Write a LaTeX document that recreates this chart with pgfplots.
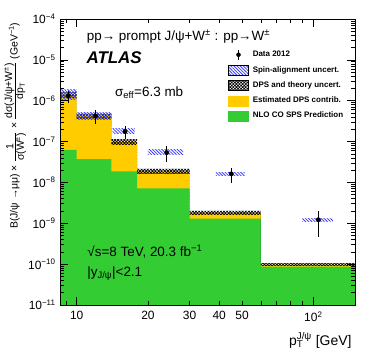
\documentclass[border=0pt]{standalone}
\usepackage{fontspec}
\setmainfont{Liberation Sans}
\usepackage{pgfplots}
\pgfplotsset{compat=1.18}
\usetikzlibrary{patterns.meta}

\definecolor{spsgreen}{RGB}{51,204,51}
\definecolor{dpsyellow}{RGB}{255,204,0}
\definecolor{spinblue}{RGB}{60,60,255}

\tikzset{
  spin/.style={pattern={Lines[angle=-45,distance=2.2bp,line width=0.8bp]}, pattern color=spinblue},
  dpsband/.style={pattern={Hatch[angle=45,distance=2.2bp,line width=0.7bp]}, pattern color=black},
}

\newcommand{\hfr}[2]{$\frac{\hbox{#1}}{\hbox{#2}}$}
\newcommand{\e}[1]{10\textsuperscript{−#1}}

\begin{document}
\begin{tikzpicture}
\useasboundingbox (-60bp,-59bp) rectangle (314bp,305bp);
\begin{axis}[
  at={(0,0)}, anchor=south west,
  scale only axis, width=295bp, height=286bp,
  xmode=log, ymode=log,
  xmin=8.5, xmax=150, ymin=1e-11, ymax=1e-4,
  axis on top,
  tick align=inside,
  major tick length=8bp, minor tick length=4bp,
  every tick/.style={black, line width=0.6bp},
  axis line style={line width=0.8bp},
  tick label style={font=\fontsize{12}{14}\selectfont},
  xtick={10,100}, xticklabels={10,10\textsuperscript{2}},
  extra x ticks={20,30,40,50}, extra x tick labels={20,30,40,50},
  extra x tick style={grid=none, major tick length=4bp},
  minor xtick={9,60,70,80,90},
  ytick={1e-11,1e-10,1e-9,1e-8,1e-7,1e-6,1e-5,1e-4},
  yticklabels={\e{11},\e{10},\e{9},\e{8},\e{7},\e{6},\e{5},\e{4}},
  minor ytick={2e-11,3e-11,4e-11,5e-11,6e-11,7e-11,8e-11,9e-11,
    2e-10,3e-10,4e-10,5e-10,6e-10,7e-10,8e-10,9e-10,
    2e-9,3e-9,4e-9,5e-9,6e-9,7e-9,8e-9,9e-9,
    2e-8,3e-8,4e-8,5e-8,6e-8,7e-8,8e-8,9e-8,
    2e-7,3e-7,4e-7,5e-7,6e-7,7e-7,8e-7,9e-7,
    2e-6,3e-6,4e-6,5e-6,6e-6,7e-6,8e-6,9e-6,
    2e-5,3e-5,4e-5,5e-5,6e-5,7e-5,8e-5,9e-5},
  xticklabel style={yshift=-3bp},
  yticklabel style={xshift=-1bp},
  xlabel={p\rlap{\textsubscript{T}}\textsuperscript{J/ψ} [GeV]},
  every axis x label/.style={at={(axis description cs:1,-0.14)}, anchor=base east, font=\fontsize{14}{16}\selectfont},
  ylabel={B(J/ψ →μμ) × \hfr{1}{σ(W\textsuperscript{±})} × \hfr{dσ(J/ψ+W\textsuperscript{±})}{dp\textsubscript{T}} (GeV\textsuperscript{−1})},
  every axis y label/.style={at={(axis description cs:-0.1525,1)}, rotate=90, anchor=east, font=\fontsize{10.5}{12}\selectfont},
  legend style={at={(0.5695,0.895)}, anchor=north west, draw=none, fill=none,
    inner sep=0pt, row sep=4.7bp, font=\fontsize{8}{9}\selectfont\bfseries,
    nodes={inner sep=0pt},
    /tikz/every odd column/.append style={column sep=4bp}},
  legend cell align=left,
]
% legend entries, in the order of the reference
\addlegendimage{legend image code/.code={
  \draw[black, line width=1bp] (10bp,-5bp) -- (10bp,5bp);
  \fill[black] (10bp,0bp) circle (2bp);}}
\addlegendentry{Data 2012}
\addlegendimage{legend image code/.code={
  \draw[spin, draw=black, line width=0.6bp] (0bp,-5bp) rectangle (20bp,5bp);}}
\addlegendentry{Spin-alignment uncert.}
\addlegendimage{legend image code/.code={
  \draw[dpsband, draw=black, line width=0.6bp] (0bp,-5bp) rectangle (20bp,5bp);}}
\addlegendentry{DPS and theory uncert.}
\addlegendimage{legend image code/.code={
  \fill[dpsyellow] (0bp,-5bp) rectangle (20bp,5bp);}}
\addlegendentry{Estimated DPS contrib.}
\addlegendimage{legend image code/.code={
  \fill[spsgreen] (0bp,-5bp) rectangle (20bp,5bp);}}
\addlegendentry{NLO CO SPS Prediction}

% SPS + DPS (yellow), then SPS alone (green)
\addplot[forget plot, fill=dpsyellow, draw=none] coordinates {
 (8.5,1e-11) (8.5,1.38e-6) (10,1.38e-6) (10,4.2e-7) (14,4.2e-7) (14,9.8e-8) (18,9.8e-8)
 (18,1.87e-8) (30,1.87e-8) (30,1.8e-9) (60,1.8e-9) (60,9.8e-11) (150,9.8e-11) (150,1e-11)} -- cycle;
\addplot[forget plot, fill=spsgreen, draw=none] coordinates {
 (8.5,1e-11) (8.5,6.3e-8) (10,6.3e-8) (10,3.7e-8) (14,3.7e-8) (14,1.86e-8) (18,1.86e-8)
 (18,7.2e-9) (30,7.2e-9) (30,1.3e-9) (60,1.3e-9) (60,8.7e-11) (150,8.7e-11) (150,1e-11)} -- cycle;

% DPS and theory uncertainty band
\addplot[forget plot, dpsband, draw=none] coordinates {
 (8.5,1.65e-6) (10,1.65e-6) (10,4.9e-7) (14,4.9e-7) (14,1.15e-7) (18,1.15e-7)
 (18,2.15e-8) (30,2.15e-8) (30,2.0e-9) (60,2.0e-9) (60,1.06e-10) (150,1.06e-10)
 (150,9.1e-11) (60,9.1e-11) (60,1.6e-9) (30,1.6e-9) (30,1.62e-8) (18,1.62e-8)
 (18,8.3e-8) (14,8.3e-8) (14,3.6e-7) (10,3.6e-7) (10,1.15e-6) (8.5,1.15e-6)} -- cycle;

% spin-alignment uncertainty boxes
\addplot[forget plot, spin, draw=none] coordinates {
 (8.5,1.05e-6) (10,1.05e-6) (10,1.9e-6) (8.5,1.9e-6)} -- cycle;
\addplot[forget plot, spin, draw=none] coordinates {
 (10,3.53e-7) (14,3.53e-7) (14,5.25e-7) (10,5.25e-7)} -- cycle;
\addplot[forget plot, spin, draw=none] coordinates {
 (14.2,1.6e-7) (17.6,1.6e-7) (17.6,2.13e-7) (14.2,2.13e-7)} -- cycle;
\addplot[forget plot, spin, draw=none] coordinates {
 (20,4.73e-8) (28.2,4.73e-8) (28.2,6.27e-8) (20,6.27e-8)} -- cycle;
\addplot[forget plot, spin, draw=none] coordinates {
 (38.7,1.48e-8) (51.3,1.48e-8) (51.3,1.78e-8) (38.7,1.78e-8)} -- cycle;
\addplot[forget plot, spin, draw=none] coordinates {
 (89.8,1.13e-9) (121,1.13e-9) (121,1.29e-9) (89.8,1.29e-9)} -- cycle;

% data 2012
\addplot[forget plot, black, only marks, mark=*, mark size=2.2bp,
  error bars/.cd, y dir=both, y explicit, error mark=none,
  error bar style={line width=1bp, black}] coordinates {
 (9.2,1.33e-6) +- (0,0.43e-6)
 (12,4.25e-7) +- (0,1.6e-7)
 (16,1.76e-7) +- (0,0.62e-7)
 (24,5.37e-8) +- (0,2.25e-8)
 (45,1.62e-8) +- (0,0.64e-8)
 (105,1.22e-9) +- (0,0.77e-9)};

\node[anchor=base west, font=\fontsize{13.5}{15}\selectfont] at (axis description cs:0.079,0.924)
  {pp→ prompt J/ψ+W\textsuperscript{±} : pp→W\textsuperscript{±}};
\node[anchor=base west, font=\fontsize{17}{19}\selectfont\bfseries\itshape] at (axis description cs:0.078,0.845) {ATLAS};
\node[anchor=base west, font=\fontsize{13.5}{15}\selectfont] at (axis description cs:0.175,0.728) {σ\textsubscript{eff}=6.3 mb};
\node[anchor=base west, font=\fontsize{13.5}{15}\selectfont] at (axis description cs:0.081,0.169) {√s=8 TeV, 20.3 fb\textsuperscript{−1}};
\node[anchor=base west, font=\fontsize{13.5}{15}\selectfont] at (axis description cs:0.081,0.099) {|y\textsubscript{J/ψ}|<2.1};
\end{axis}
\end{tikzpicture}
\end{document}
